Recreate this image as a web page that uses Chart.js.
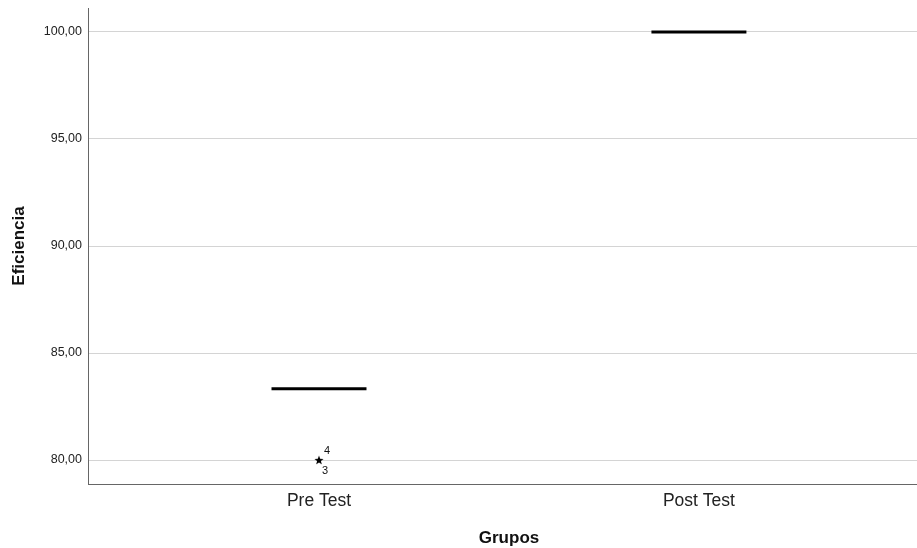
<!DOCTYPE html>
<html>
<head>
<meta charset="utf-8">
<script src="https://cdn.jsdelivr.net/npm/chart.js@4.4.0/dist/chart.umd.min.js"></script>
<style>
html,body{margin:0;padding:0;background:#fff;}
#wrap{width:917px;height:548px;}
</style>
</head>
<body>
<div id="wrap"><canvas id="c" width="917" height="548"></canvas></div>
<script>
const categories = ['Pre Test', 'Post Test'];
const medians = [83.33, 100];
const outlierValues = [80];
const outlierGroup = [0];
const outlierLabels = [['4', '3']];
const yTicks = [80, 85, 90, 95, 100];
const xTitle = 'Grupos';
const yTitle = 'Eficiencia';

const FONT = '"Liberation Sans", Arial, sans-serif';
const halfWidth = 0.125;
const medianSets = medians.map((m, i) => ({
  type: 'line',
  data: [{x: i + 1 - halfWidth, y: m}, {x: i + 1 + halfWidth, y: m}],
  borderColor: '#000',
  borderWidth: 3,
  pointRadius: 0,
  fill: false
}));

function starCanvas() {
  const c = document.createElement('canvas');
  c.width = 10; c.height = 10;
  const g = c.getContext('2d');
  g.fillStyle = '#000';
  g.beginPath();
  for (let k = 0; k < 10; k++) {
    const r = k % 2 === 0 ? 4.8 : 2.0;
    const a = -Math.PI / 2 + k * Math.PI / 5;
    const px = 5 + r * Math.cos(a), py = 5.4 + r * Math.sin(a);
    if (k === 0) g.moveTo(px, py); else g.lineTo(px, py);
  }
  g.closePath();
  g.fill();
  return c;
}

const outlierSet = {
  type: 'scatter',
  data: outlierValues.map((v, i) => ({x: outlierGroup[i] + 1, y: v})),
  pointStyle: starCanvas(),
  pointRadius: 5
};

const labelPlugin = {
  id: 'outlierLabels',
  afterDatasetsDraw(chart) {
    const ctx = chart.ctx;
    const meta = chart.getDatasetMeta(chart.data.datasets.length - 1);
    ctx.save();
    ctx.font = '11px ' + FONT;
    ctx.fillStyle = '#111';
    ctx.textAlign = 'left';
    ctx.textBaseline = 'middle';
    meta.data.forEach((pt, i) => {
      const labs = outlierLabels[i];
      ctx.fillText(labs[0], pt.x + 5, pt.y - 9);
      ctx.fillText(labs[1], pt.x + 3, pt.y + 11);
    });
    ctx.restore();
  },
  afterDraw(chart) {
    const ctx = chart.ctx;
    const a = chart.chartArea;
    ctx.save();
    ctx.font = 'bold 17px ' + FONT;
    ctx.fillStyle = '#111';
    ctx.textAlign = 'center';
    ctx.textBaseline = 'middle';
    ctx.fillText(xTitle, (a.left + a.right) / 2 + 6.5, chart.height - 10);
    ctx.translate(19, (a.top + a.bottom) / 2);
    ctx.rotate(-Math.PI / 2);
    ctx.fillText(yTitle, 0, 0);
    ctx.restore();
  }
};

new Chart(document.getElementById('c'), {
  data: {datasets: [...medianSets, outlierSet]},
  options: {
    responsive: false,
    animation: false,
    layout: {autoPadding: false, padding: {top: 8, right: 0, left: 0, bottom: 0}},
    plugins: {legend: {display: false}, tooltip: {enabled: false}},
    scales: {
      x: {
        type: 'linear',
        min: 0.392, max: 2.574,
        afterBuildTicks(s) { s.ticks = categories.map((c, i) => ({value: i + 1})); },
        afterFit(s) { s.height = 64; s.paddingLeft = 0; s.paddingRight = 0; },
        ticks: {
          callback: (v) => categories[Math.round(v) - 1] || '',
          color: '#222',
          font: {family: FONT, size: 17.5},
          padding: 7,
          maxRotation: 0, autoSkip: false
        },
        grid: {display: false, drawTicks: false},
        border: {color: '#666', width: 1}
      },
      y: {
        type: 'linear',
        min: 78.88, max: 101.12,
        afterBuildTicks(s) { s.ticks = yTicks.map(v => ({value: v})); },
        afterFit(s) { s.width = 88; s.paddingTop = 0; s.paddingBottom = 0; },
        ticks: {
          callback: (v) => v.toFixed(2).replace('.', ','),
          color: '#222',
          font: {family: FONT, size: 12.5},
          padding: 6
        },
        grid: {color: '#d4d4d4', lineWidth: 1, drawTicks: false},
        border: {color: '#666', width: 1}
      }
    }
  },
  plugins: [labelPlugin]
});
</script>
</body>
</html>
